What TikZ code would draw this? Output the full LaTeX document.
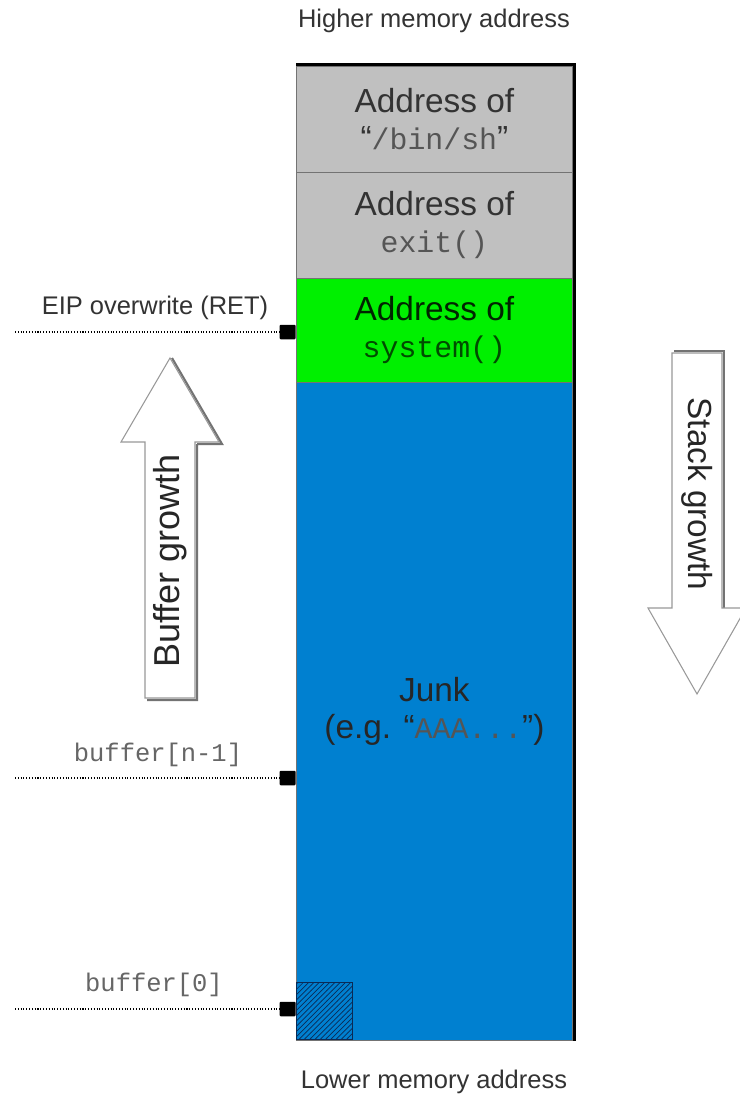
\documentclass[tikz,border=0pt]{standalone}
\usepackage{fontspec}
\setmainfont{Liberation Sans}
\setmonofont{Liberation Mono}
\usepackage{xcolor}
\usetikzlibrary{positioning,patterns}

\definecolor{slotgray}{HTML}{C0C0C0}
\definecolor{slotgreen}{HTML}{00F000}
\definecolor{slotblue}{HTML}{0080D0}
\definecolor{hatchblue}{HTML}{0A2A55}
\definecolor{codegray}{HTML}{555555}
\newcommand{\codetxt}[1]{{\fontsize{17}{21}\selectfont\ttfamily\color{codegray}#1}}

\begin{document}
\begin{tikzpicture}[x=0.02cm, y=-0.02cm,
        slot/.style={draw=black!55, line width=0.5pt, minimum width=5.52cm, inner sep=0pt, align=center, text=black!80, font=\fontsize{19}{21}\selectfont, anchor=north west},
        marker/.style={fill=black, minimum width=0.32cm, minimum height=0.29cm, inner sep=0pt, rounded corners=0.6pt, anchor=east},
        leader/.style={densely dotted, line width=0.6pt},
        label/.style={text=black!80, font=\fontsize{14.5}{17}\selectfont, anchor=base},
        codelabel/.style={text=black!60, font=\fontsize{14.5}{17}\selectfont\ttfamily, anchor=base},
        growth/.style={fill=white, draw=black!40, line width=0.6pt},
        growthshadow/.style={draw=black!55, line width=1.2pt},
        growthtext/.style={text=black!85, font=\fontsize{20.5}{23}\selectfont}
    ]
    \useasboundingbox (0,0) rectangle (740,1096);
    \fill[white] (0,0) rectangle (740,1096);

    % stack slots
    \node[slot, fill=slotgray, minimum height=2.12cm] (binsh) at (296,66) {Address of\\ “\codetxt{/bin/sh}”};
    \node[slot, fill=slotgray, minimum height=2.12cm] (exitaddr) at (296,172) {Address of\\ \codetxt{exit()}};
    \node[slot, fill=slotgreen, minimum height=2.08cm, text=black!85!green] (sysaddr) at (296,278) {Address of\\ {\fontsize{17}{21}\selectfont\ttfamily\color{black!70!green}system()}};
    \node[slot, fill=slotblue, minimum height=13.16cm, text=black!85] (junk) at (296,382) {Junk\\ (e.g. “\codetxt{AAA...}”)};

    % buffer[0] cell
    \node[draw=hatchblue, line width=0.7pt, fill=slotblue, postaction={pattern=north east lines, pattern color=hatchblue}, minimum width=1.12cm, minimum height=1.14cm, inner sep=0pt, anchor=south west] (bufzero) at (296,1040) {};

    % shadow edge of the column
    \draw[line width=1.6pt, black] ([yshift=1pt]binsh.north west) -- ([xshift=1pt, yshift=1pt]binsh.north east) -- ([xshift=1pt]junk.south east);

    % address labels
    \node[label] (higher) at (434,27) {Higher memory address};
    \node[label] (lower) at (434,1088) {Lower memory address};

    % markers and leaders
    \node[marker] (eipmark) at (296,332) {};
    \node[marker] (nmark) at (296,778) {};
    \node[marker] (zeromark) at (296,1009) {};
    \coordinate (eipend) at (15,332);
    \coordinate (nend) at (15,778);
    \coordinate (zeroend) at (15,1009);
    \draw[leader] (eipend) -- (eipmark);
    \draw[leader] (nend) -- (nmark);
    \draw[leader] (zeroend) -- (zeromark);

    \node[label] (eiplabel) at (155,314) {EIP overwrite (RET)};
    \node[codelabel] (nlabel) at (158,761) {buffer[n-1]};
    \node[codelabel] (zerolabel) at (154,991) {buffer[0]};

    % buffer growth arrow
    \draw[growthshadow] (197,444) -- (222,444) -- (172,358) (197,444) -- (197,700) -- (147,700);
    \draw[growth] (145,698) -- (145,442) -- (121,442) -- (170,358) -- (219,442) -- (195,442) -- (195,698) -- cycle;
    \node[growthtext, rotate=90] (bufgrowth) at (170,561) {Buffer growth};

    % stack growth arrow
    \draw[growthshadow] (674,351) -- (724,351) -- (724,608);
    \draw[growth] (672,353) -- (722,353) -- (722,608) -- (746,608) -- (697,694) -- (648,608) -- (672,608) -- cycle;
    \node[growthtext, rotate=-90, font=\fontsize{19}{21}\selectfont] (stackgrowth) at (697,494) {Stack growth};

\end{tikzpicture}
\end{document}
